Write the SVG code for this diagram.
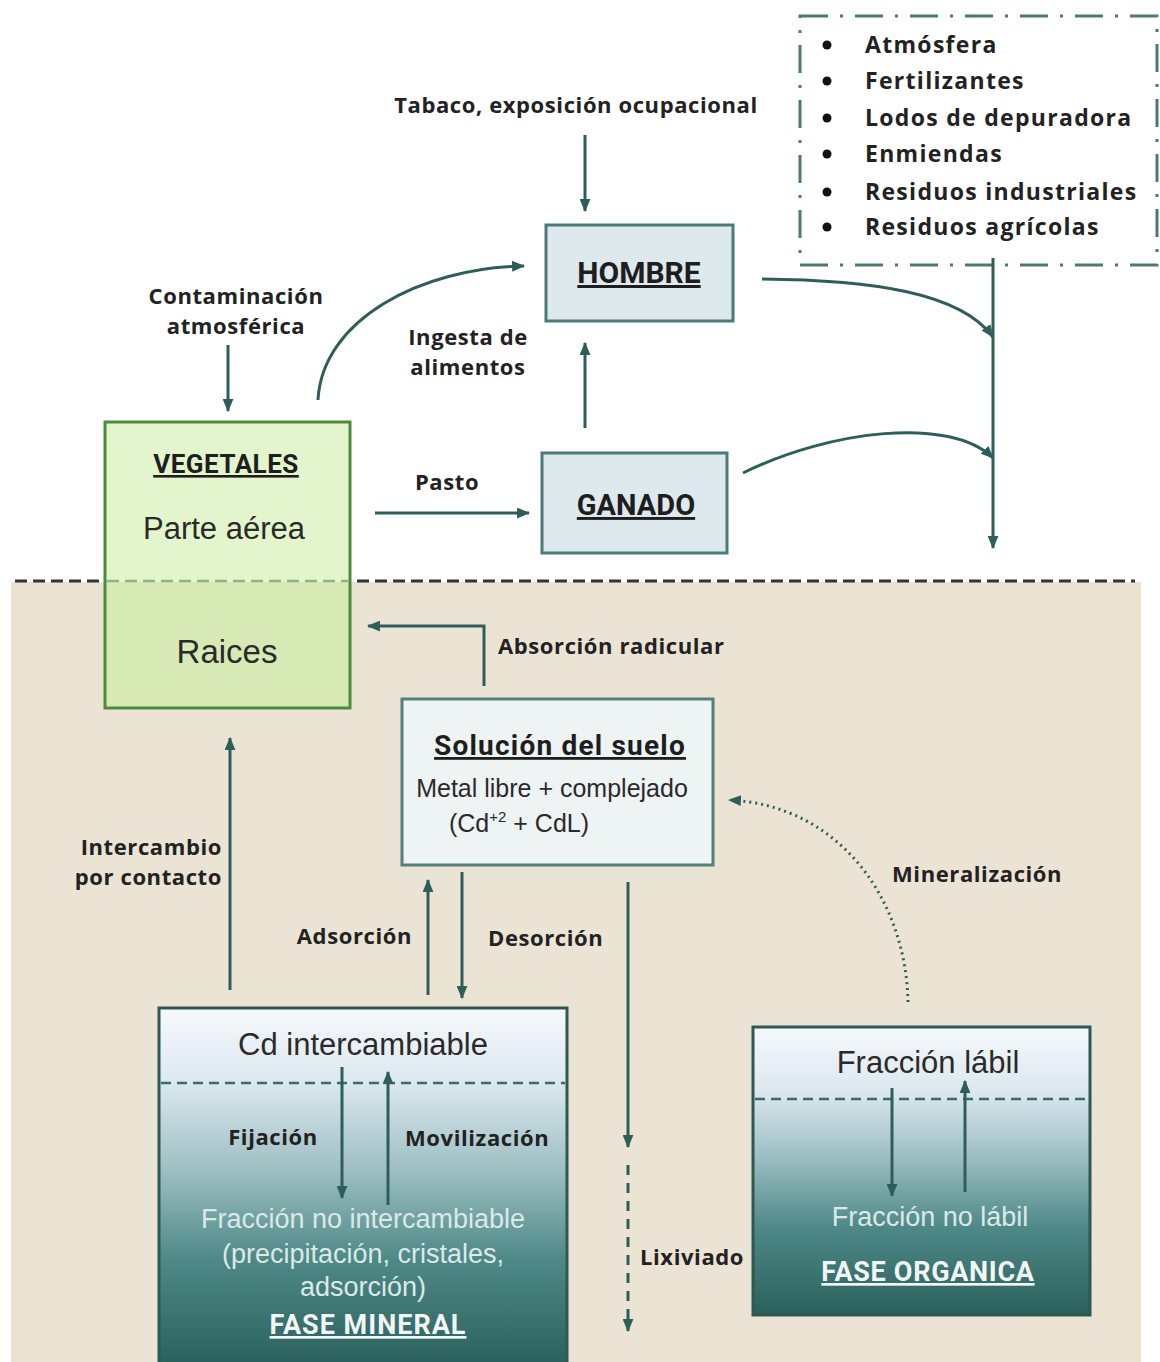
<svg xmlns="http://www.w3.org/2000/svg" width="1160" height="1362" viewBox="0 0 1160 1362">
<defs>
<marker id="ah" viewBox="0 0 12 10" refX="11" refY="5" markerWidth="13" markerHeight="11" markerUnits="userSpaceOnUse" orient="auto"><path d="M0,0 L12,5 L0,10 z" fill="#2f5e5a"/></marker>
<linearGradient id="gm" x1="0" y1="0" x2="0" y2="1">
<stop offset="0" stop-color="#f6f9fc"/>
<stop offset="0.2" stop-color="#dde9f0"/>
<stop offset="0.45" stop-color="#9fc0c4"/>
<stop offset="0.7" stop-color="#4f8a88"/>
<stop offset="1" stop-color="#2a615d"/>
</linearGradient>
<linearGradient id="go" x1="0" y1="0" x2="0" y2="1">
<stop offset="0" stop-color="#f6f9fc"/>
<stop offset="0.22" stop-color="#dce8ef"/>
<stop offset="0.45" stop-color="#9dbec3"/>
<stop offset="0.7" stop-color="#4d8886"/>
<stop offset="1" stop-color="#2a605c"/>
</linearGradient>
<style>
.lbl{font-family:"Open Sans","Liberation Sans",sans-serif;font-weight:bold;font-size:22px;letter-spacing:0.6px;fill:#222}
.lst{font-family:"Open Sans","Liberation Sans",sans-serif;font-weight:bold;font-size:23px;letter-spacing:1.3px;fill:#222}
.ttl{font-family:Roboto,"Liberation Sans",sans-serif;font-weight:bold;fill:#1e1e1e;text-decoration:underline}
.reg{font-family:"Liberation Sans",Arial,sans-serif;fill:#2a2a2a}
.lt{font-family:"Liberation Sans",Arial,sans-serif;fill:#dbe9e8;font-size:27px}
.arr{fill:none;stroke:#2f5e5a;stroke-width:3;marker-end:url(#ah)}
.box{stroke-width:3}
</style>
</defs>
<rect x="0" y="0" width="1160" height="1362" fill="#ffffff"/>
<rect x="11" y="582" width="1130" height="780" fill="#ebe4d5"/>
<line x1="15" y1="581" x2="1135" y2="581" stroke="#333" stroke-width="3" stroke-dasharray="12 6"/>

<g id="fuentes">
<rect x="800" y="16" width="357" height="249" fill="none" stroke="#4c7a72" stroke-width="3" stroke-dasharray="28 12 3 12"/>
<g fill="#111"><circle cx="827" cy="45" r="4.5"/><circle cx="827" cy="81" r="4.5"/><circle cx="827" cy="118" r="4.5"/><circle cx="827" cy="154" r="4.5"/><circle cx="827" cy="192" r="4.5"/><circle cx="827" cy="227" r="4.5"/></g>
<g class="lst">
<text x="865" y="53">Atmósfera</text>
<text x="865" y="89">Fertilizantes</text>
<text x="865" y="126">Lodos de depuradora</text>
<text x="865" y="162">Enmiendas</text>
<text x="865" y="200">Residuos industriales</text>
<text x="865" y="235">Residuos agrícolas</text>
</g>
</g>

<g id="tabaco"><text class="lbl" x="576" y="113" text-anchor="middle">Tabaco, exposición ocupacional</text></g>
<g id="contaminacion"><text class="lbl" x="236" y="304" text-anchor="middle">Contaminación</text><text class="lbl" x="236" y="334" text-anchor="middle">atmosférica</text></g>

<g id="hombre">
<rect class="box" x="546" y="225" width="187" height="96" fill="#dde9ec" stroke="#4b7a78"/>
<text class="ttl" x="639" y="283" text-anchor="middle" font-size="30">HOMBRE</text>
</g>
<g id="ganado">
<rect class="box" x="542" y="453" width="185" height="100" fill="#dde9ec" stroke="#4b7a78"/>
<text class="ttl" x="636" y="515" text-anchor="middle" font-size="29">GANADO</text>
</g>

<g id="vegetales">
<rect x="105" y="422" width="245" height="160" fill="#e2f5cc"/>
<rect x="105" y="582" width="245" height="126" fill="#d7eab6"/>
<rect class="box" x="105" y="422" width="245" height="286" fill="none" stroke="#4e8a3c"/>
<line x1="107" y1="581" x2="348" y2="581" stroke="#8fb57f" stroke-width="2.5" stroke-dasharray="12 6"/>
<text class="ttl" x="226" y="473" text-anchor="middle" font-size="26" letter-spacing="0.5">VEGETALES</text>
<text class="reg" x="224" y="539" text-anchor="middle" font-size="31">Parte aérea</text>
<text class="reg" x="227" y="663" text-anchor="middle" font-size="33">Raices</text>
</g>

<g id="ingesta"><text class="lbl" x="468" y="345" text-anchor="middle">Ingesta de</text><text class="lbl" x="468" y="375" text-anchor="middle">alimentos</text></g>
<g id="pasto"><text class="lbl" x="447" y="490" text-anchor="middle">Pasto</text></g>

<g id="solucion">
<rect class="box" x="402" y="699" width="311" height="166" fill="#eef3f4" stroke="#557f7a"/>
<text class="ttl" x="560" y="755" text-anchor="middle" font-size="28" letter-spacing="1.2">Solución del suelo</text>
<text class="reg" x="552" y="797" text-anchor="middle" font-size="25" fill="#555">Metal libre + complejado</text>
<text class="reg" x="519" y="832" text-anchor="middle" font-size="25" fill="#555">(Cd<tspan font-size="15" dy="-10">+2</tspan><tspan dy="10"> + CdL)</tspan></text>
</g>

<g id="absorcion"><text class="lbl" x="498" y="654">Absorción radicular</text></g>
<g id="intercambio"><text class="lbl" x="222" y="855" text-anchor="end">Intercambio</text><text class="lbl" x="222" y="885" text-anchor="end">por contacto</text></g>
<g id="adsorcion"><text class="lbl" x="412" y="944" text-anchor="end">Adsorción</text></g>
<g id="desorcion"><text class="lbl" x="488" y="946">Desorción</text></g>
<g id="mineralizacion"><text class="lbl" x="892" y="882">Mineralización</text></g>
<g id="lixiviado"><text class="lbl" x="640" y="1265">Lixiviado</text></g>

<g id="fase-mineral">
<rect class="box" x="159" y="1008" width="408" height="356" fill="url(#gm)" stroke="#2f5753"/>
<line x1="161" y1="1083" x2="565" y2="1083" stroke="#3d6b68" stroke-width="2.5" stroke-dasharray="10 6"/>
<text class="reg" x="363" y="1055" text-anchor="middle" font-size="31">Cd intercambiable</text>
<text class="lbl" x="273" y="1145" text-anchor="middle">Fijación</text>
<text class="lbl" x="405" y="1146">Movilización</text>
<text class="lt" x="363" y="1228" text-anchor="middle">Fracción no intercambiable</text>
<text class="lt" x="363" y="1263" text-anchor="middle">(precipitación, cristales,</text>
<text class="lt" x="363" y="1296" text-anchor="middle">adsorción)</text>
<text class="ttl" x="368" y="1334" text-anchor="middle" font-size="27" letter-spacing="1" style="fill:#f2f6f6">FASE MINERAL</text>
</g>

<g id="fase-organica">
<rect class="box" x="753" y="1027" width="337" height="288" fill="url(#go)" stroke="#2f5753"/>
<line x1="755" y1="1099" x2="1088" y2="1099" stroke="#3d6b68" stroke-width="2.5" stroke-dasharray="10 6"/>
<text class="reg" x="928" y="1073" text-anchor="middle" font-size="31">Fracción lábil</text>
<text class="lt" x="930" y="1226" text-anchor="middle">Fracción no lábil</text>
<text class="ttl" x="928" y="1281" text-anchor="middle" font-size="27" letter-spacing="0.7" style="fill:#f2f6f6">FASE ORGANICA</text>
</g>

<g id="connectors">
<path class="arr" d="M585,135 L585,211"/>
<path class="arr" d="M228,345 L228,411"/>
<path class="arr" d="M318,400 C322,320 420,268 524,266"/>
<path class="arr" d="M585,428 L585,343"/>
<path class="arr" d="M375,513 L529,513"/>
<path class="arr" d="M993,258 L993,548"/>
<path class="arr" d="M762,279 C870,280 960,292 993,337"/>
<path class="arr" d="M743,473 C830,430 950,416 993,458"/>
<path class="arr" d="M484,686 L484,626 L368,626"/>
<path class="arr" d="M230,990 L230,738"/>
<path class="arr" d="M428,995 L428,880"/>
<path class="arr" d="M462,872 L462,998"/>
<path class="arr" d="M628,882 L628,1147"/>
<path class="arr" d="M628,1165 L628,1331" stroke-dasharray="10 8"/>
<path class="arr" d="M908,1002 C906,900 840,805 729,800" stroke-dasharray="2 4" stroke-width="3.5"/>
<path class="arr" d="M342,1067 L342,1198"/>
<path class="arr" d="M388,1205 L388,1072"/>
<path class="arr" d="M892,1088 L892,1196"/>
<path class="arr" d="M965,1192 L965,1081"/>
</g>
</svg>
